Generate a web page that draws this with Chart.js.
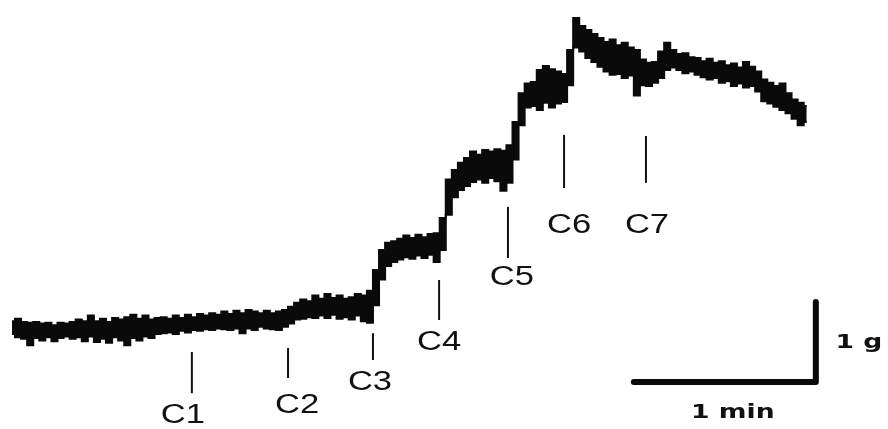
<!DOCTYPE html>
<html>
<head>
<meta charset="utf-8">
<script src="https://cdn.jsdelivr.net/npm/chart.js@4/dist/chart.umd.min.js"></script>
<style>
  html, body { margin: 0; padding: 0; background: #ffffff; }
  #wrap { width: 888px; height: 429px; position: relative; }
</style>
</head>
<body>
<div id="wrap"><canvas id="trace"></canvas></div>
<script>
// Isometric tension recording: time (s) and upper / lower edge of the noisy trace (g)
const timeSec = [
  0, 2, 4, 6, 8, 10, 12, 14, 16, 18,
  20, 22, 24, 26, 28, 30, 32, 34, 36, 38,
  40, 42, 44, 46, 48, 50, 52, 54, 56, 58,
  60, 62, 64, 66, 68, 70, 72, 74, 76, 78,
  80, 82, 84, 86, 88, 90, 92, 94, 96, 98,
  100, 102, 104, 106, 108, 110, 112, 114, 116, 118,
  120, 122, 124, 126, 128, 130, 132, 134, 136, 138,
  140, 142, 144, 146, 148, 150, 152, 154, 156, 158,
  160, 162, 164, 166, 168, 170, 172, 174, 176, 178,
  180, 182, 184, 186, 188, 190, 192, 194, 196, 198,
  200, 202, 204, 206, 208, 210, 212, 214, 216, 218,
  220, 222, 224, 226, 228, 230, 232, 234, 236, 238,
  240, 242, 244, 246, 248, 250, 252, 254, 256, 258,
  260, 262
];

const tensionUpper = [
  0.06, 0.09, 0.05, 0.04, 0.05, 0.03, 0.04, 0.01, 0.04, 0.03,
  0.05, 0.08, 0.06, 0.13, 0.06, 0.09, 0.05, 0.10, 0.08, 0.11,
  0.14, 0.09, 0.13, 0.08, 0.10, 0.11, 0.09, 0.13, 0.10, 0.14,
  0.11, 0.15, 0.13, 0.16, 0.14, 0.18, 0.15, 0.19, 0.16, 0.20,
  0.18, 0.16, 0.19, 0.16, 0.18, 0.20, 0.24, 0.29, 0.33, 0.31,
  0.38, 0.34, 0.40, 0.35, 0.38, 0.34, 0.36, 0.40, 0.38, 0.44,
  0.70, 0.95, 1.04, 1.06, 1.09, 1.13, 1.10, 1.14, 1.11, 1.15,
  1.16, 1.35, 1.83, 1.95, 2.04, 2.10, 2.18, 2.14, 2.20, 2.18,
  2.21, 2.19, 2.26, 2.55, 2.91, 3.03, 3.05, 3.20, 3.25, 3.21,
  3.18, 3.15, 3.45, 3.85, 3.75, 3.70, 3.65, 3.60, 3.55, 3.58,
  3.51, 3.54, 3.48, 3.45, 3.33, 3.29, 3.30, 3.43, 3.54, 3.45,
  3.40, 3.41, 3.36, 3.35, 3.31, 3.34, 3.29, 3.31, 3.26, 3.28,
  3.23, 3.30, 3.24, 3.18, 3.08, 3.04, 3.00, 3.03, 2.91, 2.83,
  2.79, 2.75
];

const tensionLower = [
  -0.10, -0.14, -0.16, -0.24, -0.15, -0.18, -0.14, -0.19, -0.15, -0.13,
  -0.16, -0.14, -0.19, -0.13, -0.20, -0.16, -0.21, -0.14, -0.18, -0.24,
  -0.15, -0.18, -0.13, -0.15, -0.10, -0.09, -0.08, -0.10, -0.06, -0.08,
  -0.05, -0.06, -0.04, -0.05, -0.03, -0.04, -0.05, -0.03, -0.09, -0.03,
  -0.05, -0.01, -0.03, -0.04, -0.05, -0.01, 0.03, 0.08, 0.09, 0.11,
  0.10, 0.13, 0.10, 0.14, 0.09, 0.11, 0.08, 0.13, 0.06, 0.04,
  0.26, 0.58, 0.75, 0.80, 0.83, 0.86, 0.84, 0.88, 0.85, 0.89,
  0.80, 0.95, 1.39, 1.61, 1.70, 1.75, 1.80, 1.83, 1.79, 1.85,
  1.81, 1.69, 1.79, 2.08, 2.51, 2.73, 2.75, 2.70, 2.79, 2.73,
  2.78, 2.80, 3.01, 3.48, 3.43, 3.35, 3.30, 3.24, 3.18, 3.14,
  3.15, 3.10, 3.13, 2.88, 3.01, 3.00, 3.04, 3.10, 3.20, 3.23,
  3.20, 3.16, 3.18, 3.14, 3.11, 3.08, 3.10, 3.04, 3.06, 3.00,
  3.03, 2.98, 3.00, 2.93, 2.81, 2.78, 2.74, 2.70, 2.66, 2.59,
  2.51, 2.55
];

// Cumulative additions C1..C7 and the time (s) at which each was given
const additionLabels = ['C1', 'C2', 'C3', 'C4', 'C5', 'C6', 'C7'];
const additionTimes = [59.3, 91.0, 119.0, 140.8, 163.5, 182.0, 209.0];

// Calibration bar values
const scaleBarSeconds = 60;
const scaleBarGrams = 1;
const scaleBarTexts = ['1 g', '1 min'];

// ---- layout for the annotations (tick extent in g, label offsets in px) ----
const tickLayout = [
  { top: -0.325, bottom: -0.84, labelY: -1.125, dx: -9 },
  { top: -0.275, bottom: -0.65, labelY: -0.99,  dx: 9 },
  { top: -0.09,  bottom: -0.425, labelY: -0.71, dx: -3 },
  { top: 0.575,  bottom: 0.075, labelY: -0.21,  dx: 0 },
  { top: 1.49,   bottom: 0.85,  labelY: 0.60,   dx: 4 },
  { top: 2.39,   bottom: 1.725, labelY: 1.26,   dx: 5 },
  { top: 2.375,  bottom: 1.79,  labelY: 1.26,   dx: 1 }
];
const scaleBarCorner = { t: 265.0, g: -0.70 };

const PX_PER_SEC = 182 / 60;
const PX_PER_G = 80;
const xMin = -12 / PX_PER_SEC;
const xMax = (888 - 12) / PX_PER_SEC;
const yMax = 326 / PX_PER_G;
const yMin = (326 - 429) / PX_PER_G;

const upperPts = timeSec.map((t, i) => ({ x: t, y: tensionUpper[i] }));
const lowerPts = timeSec.map((t, i) => ({ x: t, y: tensionLower[i] }));

function stretchedText(ctx, text, cx, cy, font, sx) {
  ctx.save();
  ctx.translate(cx, cy);
  ctx.scale(sx, 1);
  ctx.font = font;
  ctx.textAlign = 'center';
  ctx.textBaseline = 'middle';
  ctx.fillStyle = '#111';
  ctx.fillText(text, 0, 0);
  ctx.restore();
}

const annotations = {
  id: 'annotations',
  afterDatasetsDraw(chart) {
    const { ctx, scales: { x, y } } = chart;
    ctx.save();
    // addition ticks and labels
    ctx.strokeStyle = '#111';
    ctx.lineWidth = 2;
    additionTimes.forEach((t, i) => {
      const L = tickLayout[i];
      const px = x.getPixelForValue(t);
      ctx.beginPath();
      ctx.moveTo(px, y.getPixelForValue(L.top));
      ctx.lineTo(px, y.getPixelForValue(L.bottom));
      ctx.stroke();
      stretchedText(ctx, additionLabels[i], px + L.dx, y.getPixelForValue(L.labelY),
        '27px "Liberation Sans", Arial, sans-serif', 1.28);
    });
    // calibration bar
    const cx = x.getPixelForValue(scaleBarCorner.t);
    const cy = y.getPixelForValue(scaleBarCorner.g);
    const lx = x.getPixelForValue(scaleBarCorner.t - scaleBarSeconds);
    const ty = y.getPixelForValue(scaleBarCorner.g + scaleBarGrams);
    ctx.lineWidth = 6;
    ctx.lineCap = 'round';
    ctx.lineJoin = 'round';
    ctx.strokeStyle = '#0a0a0a';
    ctx.beginPath();
    ctx.moveTo(lx, cy);
    ctx.lineTo(cx, cy);
    ctx.lineTo(cx, ty);
    ctx.stroke();
    stretchedText(ctx, scaleBarTexts[0], cx + 43, (cy + ty) / 2 + 1,
      'bold 19px "DejaVu Sans", sans-serif', 1.4);
    stretchedText(ctx, scaleBarTexts[1], (cx + lx) / 2 + 8, cy + 31,
      'bold 19px "DejaVu Sans", sans-serif', 1.4);
    ctx.restore();
  }
};

new Chart(document.getElementById('trace'), {
  type: 'line',
  data: {
    datasets: [
      {
        label: 'lower',
        data: lowerPts,
        borderColor: '#0a0a0a',
        borderWidth: 2,
        pointRadius: 0,
        stepped: 'middle',
        fill: false
      },
      {
        label: 'upper',
        data: upperPts,
        borderColor: '#0a0a0a',
        backgroundColor: '#0a0a0a',
        borderWidth: 2,
        pointRadius: 0,
        stepped: 'middle',
        fill: '-1'
      }
    ]
  },
  options: {
    responsive: true,
    maintainAspectRatio: false,
    animation: false,
    layout: { padding: 0 },
    plugins: { legend: { display: false }, tooltip: { enabled: false } },
    scales: {
      x: { type: 'linear', min: xMin, max: xMax, display: false },
      y: { type: 'linear', min: yMin, max: yMax, display: false }
    }
  },
  plugins: [annotations]
});
</script>
</body>
</html>
